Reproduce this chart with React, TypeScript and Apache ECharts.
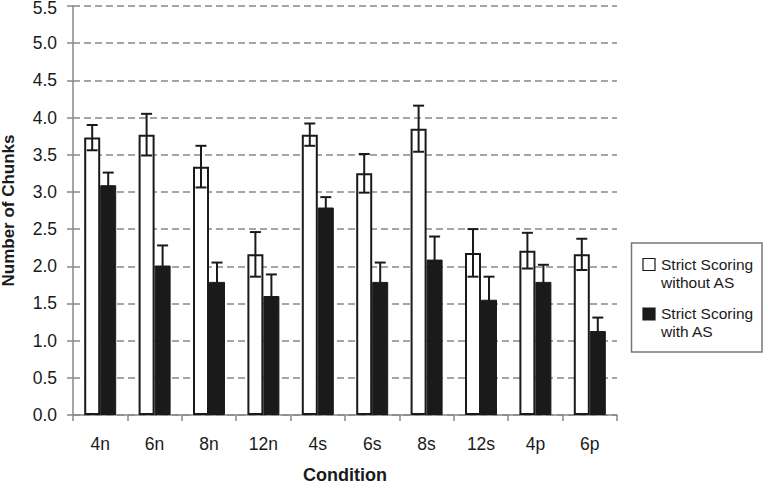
import React, { useEffect, useRef } from "react";
import * as echarts from "echarts";

const categories = ["4n", "6n", "8n", "12n", "4s", "6s", "8s", "12s", "4p", "6p"];
const withoutAS = [3.73, 3.77, 3.34, 2.16, 3.77, 3.25, 3.85, 2.18, 2.21, 2.16];
const withoutASErr = [0.17, 0.28, 0.28, 0.3, 0.15, 0.26, 0.31, 0.32, 0.24, 0.21];
const withAS = [3.09, 2.01, 1.79, 1.6, 2.79, 1.79, 2.09, 1.55, 1.79, 1.13];
const withASErr = [0.17, 0.27, 0.26, 0.29, 0.14, 0.26, 0.31, 0.31, 0.23, 0.18];
const legendLines = [["Strict Scoring", "without AS"], ["Strict Scoring", "with AS"]];
const Y_MAX = 5.5;

const FONT = "Liberation Sans, Arial, sans-serif";
const INK = "#1a1a1a";
const BAR_W = 16;

function errorSeries(values: number[], errs: number[], offset: number) {
  return {
    type: "custom",
    silent: true,
    z: 5,
    data: values.map((v, i) => [i, v, errs[i]]),
    renderItem: (params: any, api: any) => {
      const i = api.value(0);
      const v = api.value(1);
      const e = api.value(2);
      const top = api.coord([i, v + e]);
      const bot = api.coord([i, v - e]);
      const x = top[0] + offset;
      const cap = 5.5;
      const style = { stroke: INK, lineWidth: 2 };
      return {
        type: "group",
        children: [
          { type: "line", shape: { x1: x, y1: top[1], x2: x, y2: bot[1] }, style },
          { type: "line", shape: { x1: x - cap, y1: top[1], x2: x + cap, y2: top[1] }, style },
          { type: "line", shape: { x1: x - cap, y1: bot[1], x2: x + cap, y2: bot[1] }, style },
        ],
      };
    },
  };
}

export default function App() {
  const ref = useRef<HTMLDivElement>(null);
  useEffect(() => {
    document.body.style.margin = "0";
    if (!ref.current) return;
    const chart = echarts.init(ref.current, undefined, { renderer: "svg" });
    chart.setOption({
      animation: false,
      textStyle: { fontFamily: FONT },
      grid: { left: 73, right: 146, top: 6, bottom: 70, containLabel: false, outerBoundsMode: "none" },
      xAxis: {
        type: "category",
        data: categories,
        name: "Condition",
        nameLocation: "middle",
        nameGap: 51,
        nameTextStyle: { fontFamily: FONT, fontSize: 18, fontWeight: "bold", color: INK },
        axisLine: { lineStyle: { color: "#888", width: 1.5 } },
        axisTick: { show: true, length: 6, interval: 0, lineStyle: { color: "#888", width: 1.5 } },
        axisLabel: { fontFamily: FONT, fontSize: 17.5, color: INK, margin: 20, interval: 0 },
      },
      yAxis: {
        type: "value",
        min: 0,
        max: Y_MAX,
        interval: 0.5,
        name: "Number of Chunks",
        nameLocation: "middle",
        nameGap: 56,
        nameTextStyle: { fontFamily: FONT, fontSize: 17, fontWeight: "bold", color: INK },
        axisLine: { show: true, lineStyle: { color: "#888", width: 1.5 } },
        axisTick: { show: true, length: 6, lineStyle: { color: "#888", width: 1.5 } },
        axisLabel: {
          fontFamily: FONT,
          fontSize: 17.5,
          color: INK,
          margin: 16,
          formatter: (v: number) => (v === Y_MAX ? `{top|${v.toFixed(1)}}` : v.toFixed(1)),
          rich: {
            top: { fontFamily: FONT, fontSize: 17.5, color: INK, lineHeight: 6, padding: [4, 0, 0, 0] },
          },
        },
        splitLine: { show: true, lineStyle: { color: "#888", type: [7, 4], width: 1.5 } },
      },
      series: [
        {
          name: "Strict Scoring without AS",
          type: "bar",
          data: withoutAS,
          barWidth: BAR_W,
          barGap: "0%",
          itemStyle: { color: "#fff", borderColor: INK, borderWidth: 2 },
        },
        {
          name: "Strict Scoring with AS",
          type: "bar",
          data: withAS,
          barWidth: BAR_W,
          barGap: "0%",
          itemStyle: { color: INK, borderColor: INK, borderWidth: 1 },
        },
        errorSeries(withoutAS, withoutASErr, -BAR_W / 2),
        errorSeries(withAS, withASErr, BAR_W / 2),
      ],
      graphic: [
        {
          type: "rect",
          shape: { x: 631.5, y: 243, width: 130.5, height: 109 },
          style: { fill: "#fff", stroke: "#777", lineWidth: 1.5 },
        },
        {
          type: "rect",
          shape: { x: 643, y: 258.5, width: 12, height: 12 },
          style: { fill: "#fff", stroke: INK, lineWidth: 1.2 },
        },
        {
          type: "rect",
          shape: { x: 643, y: 308, width: 12, height: 12 },
          style: { fill: INK, stroke: INK, lineWidth: 1.2 },
        },
        {
          type: "text",
          x: 661,
          y: 255,
          style: { text: legendLines[0].join("\n"), fontFamily: FONT, fontSize: 15.5, lineHeight: 18, fill: INK },
        },
        {
          type: "text",
          x: 661,
          y: 304.5,
          style: { text: legendLines[1].join("\n"), fontFamily: FONT, fontSize: 15.5, lineHeight: 18, fill: INK },
        },
      ],
    });
    return () => chart.dispose();
  }, []);
  return <div ref={ref} style={{ width: 763, height: 485 }} />;
}
